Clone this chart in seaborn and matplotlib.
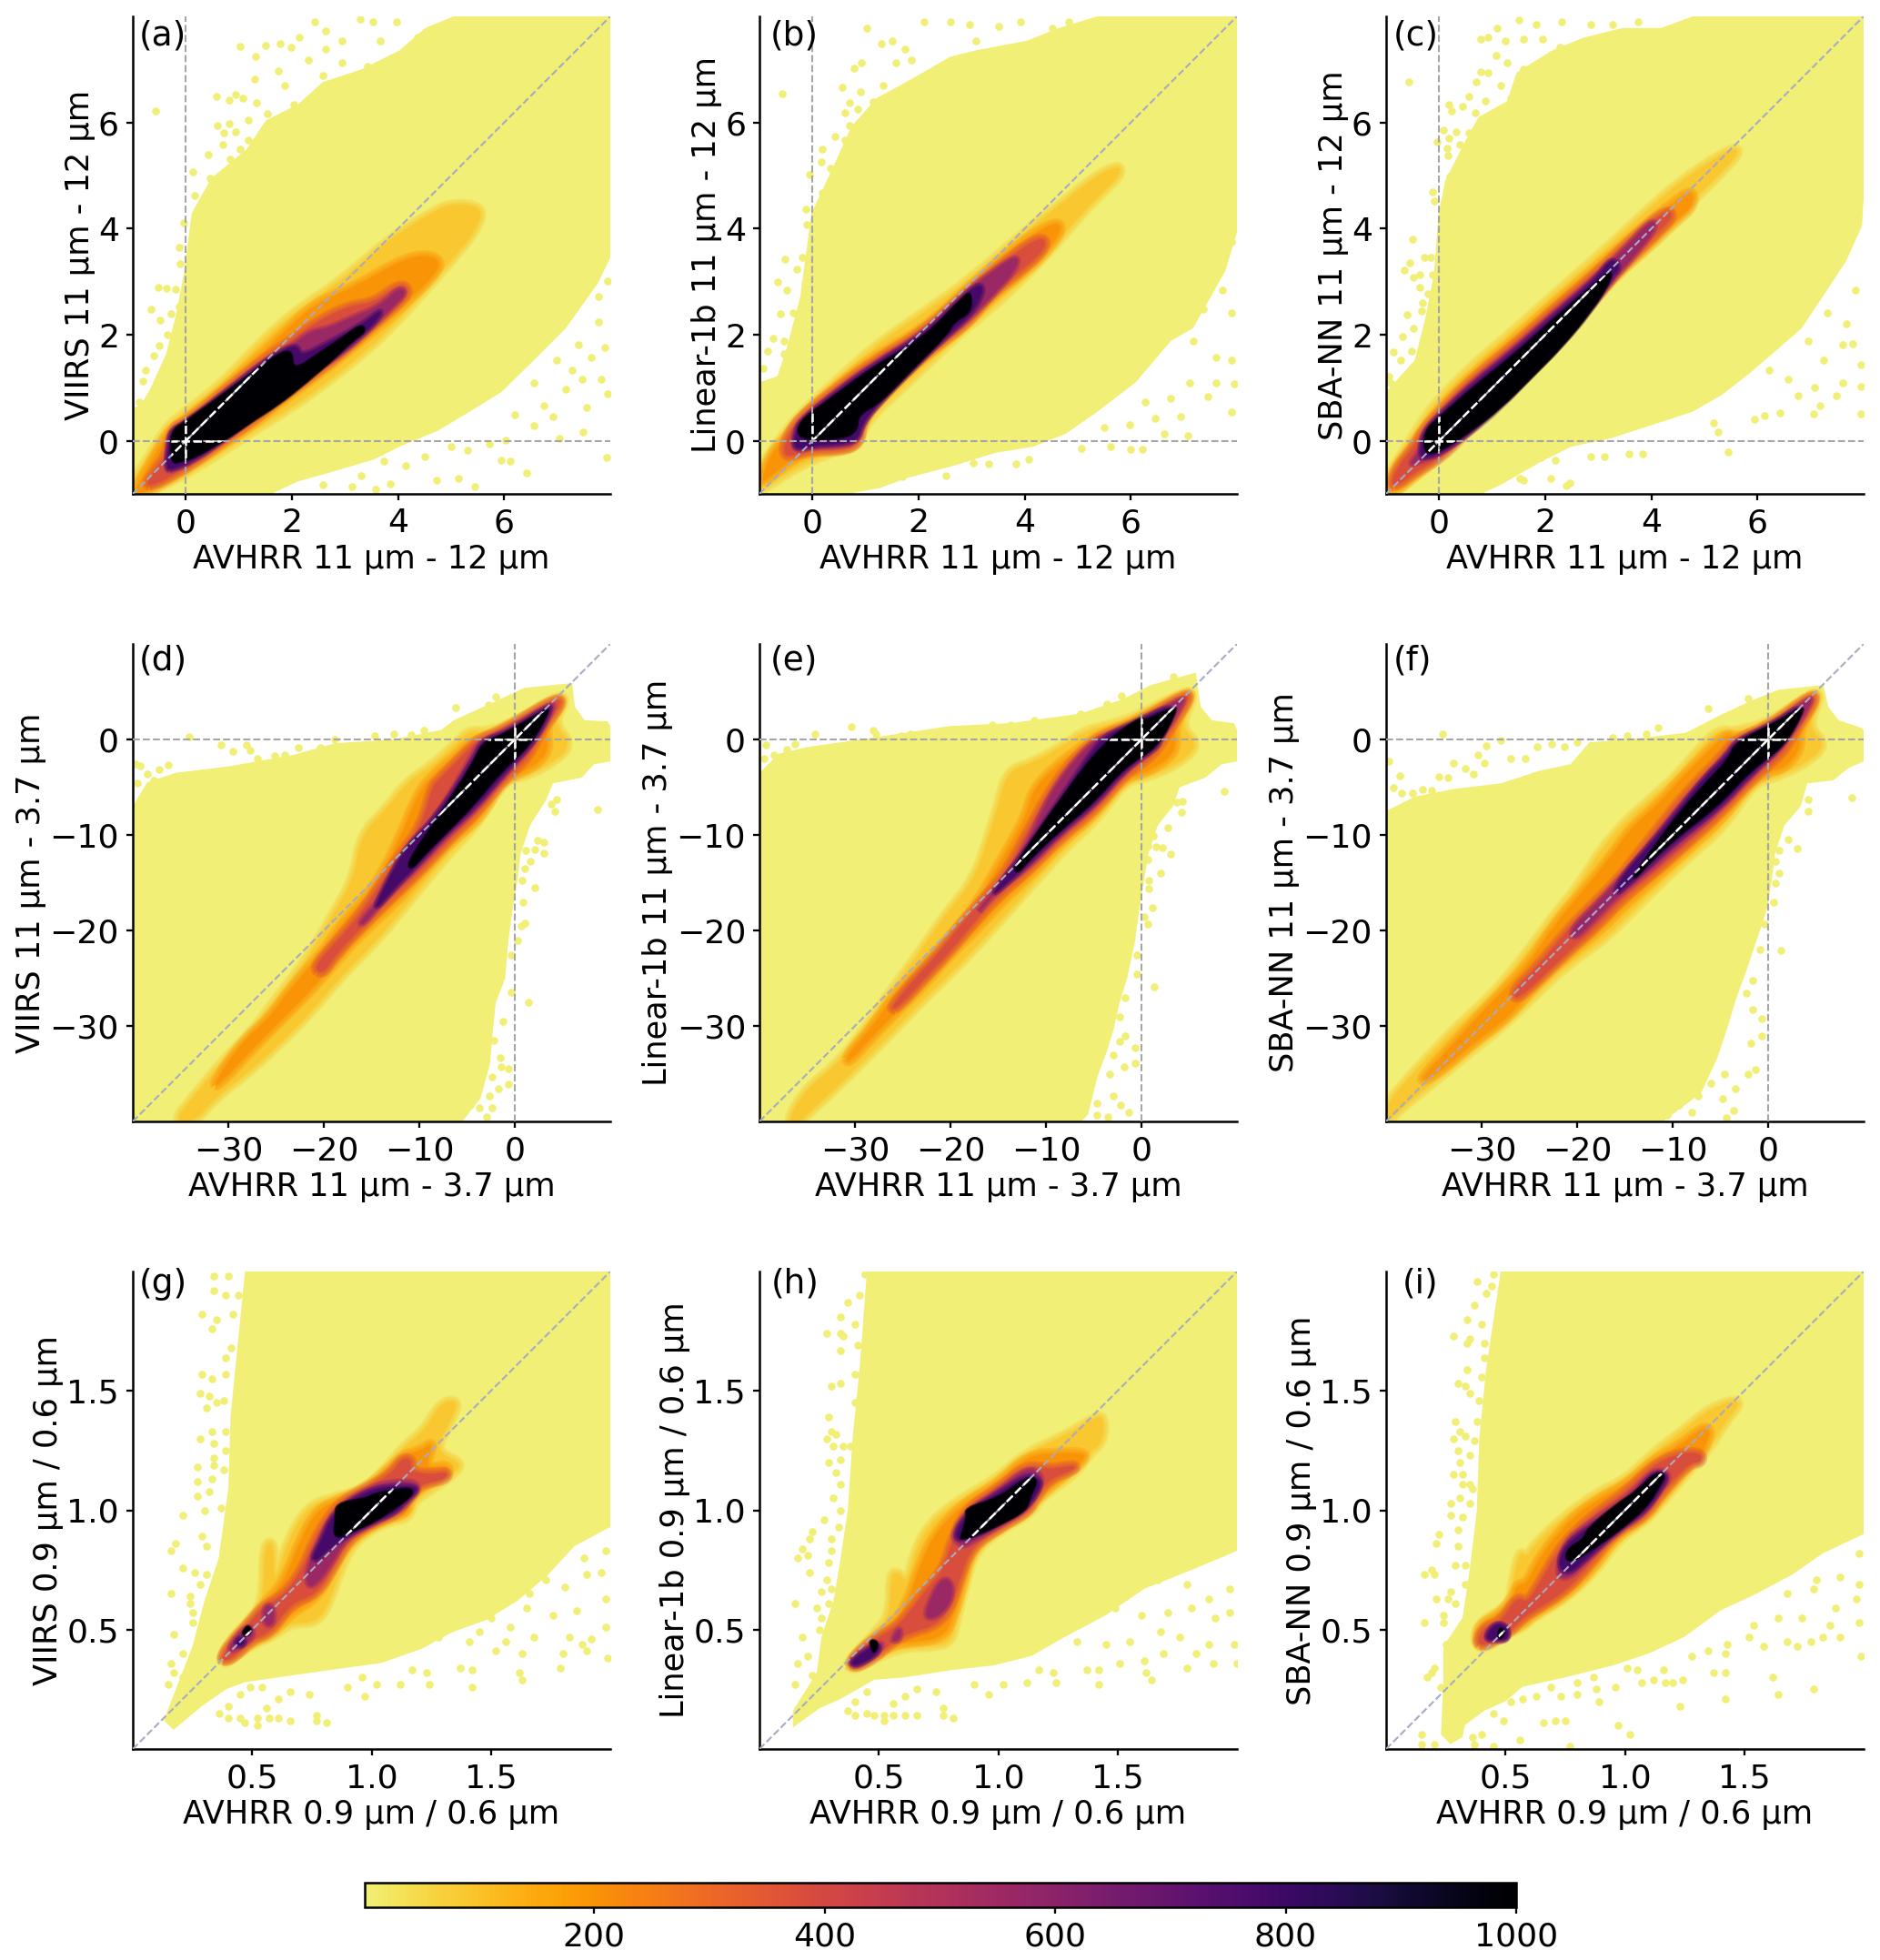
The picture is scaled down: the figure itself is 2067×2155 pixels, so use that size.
import numpy as np
import pandas as pd
import matplotlib
matplotlib.use('Agg')
import matplotlib.pyplot as plt
from matplotlib.cm import ScalarMappable
from matplotlib.colors import LinearSegmentedColormap, Normalize
from matplotlib.patches import PathPatch
from matplotlib.path import Path
import seaborn as sns

# ---- labels and axis setup ----
panel_tags = ['(a)', '(b)', '(c)', '(d)', '(e)', '(f)', '(g)', '(h)', '(i)']
tag_x = [.012, .022, .015, .012, .022, .015, .012, .024, .034]
tag_y = [.94, .94, .94, .945, .945, .945, .955, .955, .955]
y_names = ['VIIRS', 'Linear-1b', 'SBA-NN']
row_bands = ['11 µm - 12 µm', '11 µm - 3.7 µm', '0.9 µm / 0.6 µm']
row_limits = [(-1, 8), (-40, 10), (0, 2)]
row_ticks = [[0, 2, 4, 6], [-30, -20, -10, 0], [0.5, 1.0, 1.5]]
row_zero = [True, True, False]
cbar_ticks = [200, 400, 600, 800, 1000]
levels = [90, 200, 380, 560, 780, 1000]

# ---- panel a ----
a_hull = [(-1,-1),(-1,.62),(-.85,.67),(-.67,.98),(-.37,1.64),(-.19,2.36),(-.04,3.13),(.11,4.29),(.48,4.95),(1.14,5.49),(1.51,6.04),(2.11,6.34),(2.58,6.76),(3.31,7),(4.03,7.36),(4.51,7.78),(5.05,8),(8,8),(8,3.45),(7.76,2.96),(7.16,2.12),(6.56,1.52),(5.95,.92),(5.35,.55),(4.75,.19),(4.03,-.11),(3.55,-.35),(2.95,-.53),(2.1,-.77),(1.62,-1)]
a_l1 = [(-1,-.77),(-.67,-.29),(-.37,.25),(.02,.55),(.72,1.1),(1.32,1.76),(2.04,2.42),(2.95,3.02),(3.85,3.81),(4.63,4.29),(4.99,4.47),(5.6,4.41),(5.48,3.99),(4.99,3.39),(4.45,2.78),(3.85,2.12),(3.25,1.58),(2.64,1.1),(2.04,.67),(1.26,.19),(.54,-.29),(-.07,-.65),(-.67,-.95),(-.91,-1)]
a_l2 = [(-.97,-.95),(-.73,-.53),(-.49,-.11),(-.31,.19),(0,.4),(.72,.98),(1.38,1.58),(1.86,2.06),(2.46,2.6),(3.19,2.9),(4.03,3.39),(4.51,3.51),(4.81,3.39),(4.69,3.14),(4.27,2.72),(3.73,2.24),(3.07,1.7),(2.46,1.22),(1.86,.8),(1.26,.31),(.72,-.05),(.11,-.47),(-.49,-.83),(-.85,-1)]
a_l3 = [(-.76,-.83),(-.52,-.47),(-.37,-.29),(-.25,.25),(0,.34),(.78,.98),(1.44,1.52),(1.98,1.88),(2.46,2.24),(3.07,2.54),(3.55,2.6),(4.03,2.96),(4.21,2.84),(4.03,2.6),(3.67,2.3),(3.07,1.76),(2.46,1.28),(1.86,.86),(1.26,.37),(.72,.01),(.11,-.44),(-.37,-.71),(-.61,-.83)]
a_l4 = [(-.37,-.56),(-.34,-.17),(-.28,.19),(0,.34),(.78,.95),(1.5,1.52),(1.98,1.76),(2.34,2.06),(2.7,2.12),(3.07,2.3),(3.67,2.54),(4.03,2.9),(4.15,2.78),(3.91,2.54),(3.55,2.18),(2.95,1.64),(2.46,1.34),(1.86,.92),(1.26,.43),(.72,.01),(.11,-.41),(-.25,-.56)]
a_l5 = [(-.37,-.53),(-.32,-.05),(-.28,.19),(0,.34),(.84,.98),(1.68,1.64),(2.1,1.82),(2.16,1.58),(2.64,1.82),(3.31,2.18),(3.73,2.51),(3.55,2.2),(2.95,1.7),(2.46,1.34),(1.86,.92),(1.26,.43),(.78,.07),(.11,-.38),(-.25,-.53)]
a_l6 = [(-.28,-.44),(-.28,.19),(-.04,.34),(.9,1.02),(1.68,1.61),(2.01,1.73),(2.01,1.31),(2.58,1.7),(2.95,1.94),(3.31,2.21),(3.4,2.06),(3.13,1.88),(2.83,1.58),(2.28,1.1),(1.74,.67),(1.26,.37),(.78,.04),(.17,-.32),(-.07,-.38)]
a_cloud = [(-.57,6.22),(1.03,7.43),(.57,6.49),(.81,6.43),(.93,6.52),(1.08,6.46),(1.33,6.37),(1.53,6.16),(.6,5.95),(.81,5.98),(1.17,6.04),(.72,5.8),(.93,5.83),(1.17,5.67),(.69,5.58),(.42,5.4),(.14,5.07),(.45,4.95),(.6,4.92),(.84,5.31),(.17,4.62),(-.04,4.11),(-.13,3.64),(-.11,3.33),(-.52,2.89),(-.37,2.87),(-.2,2.86),(-.65,2.48),(-.49,2.27),(-.28,2.39),(-.13,2.54),(-.34,2),(-.51,1.79),(-.61,1.61),(-.76,1.34),(-.82,1.13),(-.88,.73),(1.5,7.45),(1.77,7.49),(2.13,7.61),(2.43,7.9),(2.64,7.73),(3.28,7.95),(3.52,7.89),(1.32,7.24),(1.29,6.82),(1.74,6.97),(1.98,7.42),(2.31,7.18),(2.64,7.39),(2.95,7.54),(3.67,7.54),(3.97,7.9),(4.36,7.6),(4.66,7.72),(5.05,7.84),(5.53,7.96),(1.86,6.7),(2.34,6.4),(2.04,6.34),(2.58,6.88),(2.95,7.12),(3.43,7.06),(3.85,7.12),(4.27,7.36),(4.75,7.42),(1.68,5.92),(1.92,6.04),(1.5,5.73),(1.02,5.49),
    (7.93,-.31),(6.43,-.61),(6.12,-.39),(5.94,-.36),(5.45,-.87),(5.13,-.71),(4.72,-.75),(3.85,-.81),(3.58,-.92),(3.13,-.86),(2.58,-.83),(7.04,.04),(7.49,.17),(6.56,.28),(6.92,.46),(7.55,.63),(7.95,.89),(7.83,1.16),(7.46,1.16),(7.16,.98),(6.74,.67),(6.2,.49),(6.02,.01),(5.72,-.05),(5.3,-.17),(5,-.11),(4.51,-.29),(4.15,-.47),(3.73,-.38),(3.31,-.65),(7.89,1.76),(7.64,1.58),(7.28,1.34),(7.77,2.24),(7.95,3.02),(7.77,2.72),(7.4,1.82),(6.98,1.52),(6.56,1.1)]

# ---- panel b ----
b_hull = [(-1,-1),(-1,1.1),(-.66,1.22),(-.48,1.77),(-.23,2.72),(-.02,4.29),(.43,5.25),(.73,5.92),(1.21,6.46),(1.87,6.82),(2.6,7.24),(3.08,7.36),(4.04,7.54),(4.64,7.78),(5.37,8),(8,8),(8,3.93),(7.78,3.2),(7.17,2.12),(6.75,1.88),(6.09,1.1),(5.37,.55),(4.77,.13),(4.16,-.11),(3.44,-.23),(2.66,-.47),(1.75,-.71),(1.27,-.89),(.67,-1)]
b_l1 = [(-.99,-.89),(-.99,-.53),(-.66,-.05),(-.3,.43),(.25,.94),(1.15,1.76),(2.11,2.42),(2.96,3.02),(3.86,3.81),(4.77,4.53),(5.37,5.01),(5.79,5.19),(5.79,5.01),(5.49,4.71),(5.07,4.29),(4.46,3.57),(3.86,2.96),(3.26,2.42),(2.66,1.94),(2.05,1.34),(1.45,.8),(.97,.31),(.85,-.11),(.25,-.23),(-.48,-.59),(-.9,-.89)]
b_l2 = [(-.97,-.77),(-.78,-.23),(-.48,.07),(-.23,.43),(.31,.92),(1.15,1.58),(2.11,2.12),(2.96,2.9),(3.86,3.69),(4.52,4.11),(4.71,4.05),(4.52,3.69),(4.04,3.2),(3.44,2.78),(2.96,2.24),(2.36,1.76),(1.87,1.4),(1.27,.8),(.91,.37),(.88,-.08),(.43,-.2),(-.05,-.2),(-.48,-.41),(-.84,-.71)]
b_l3 = [(-.54,-.29),(-.51,.01),(-.27,.41),(.31,.87),(1.15,1.5),(2.11,2.07),(2.9,2.8),(3.56,3.33),(4.16,3.78),(4.4,3.81),(4.34,3.57),(3.92,3.2),(3.32,2.72),(2.9,2.2),(2.36,1.82),(1.87,1.4),(1.27,.8),(.94,.37),(.88,-.05),(.55,-.17),(0,-.17),(-.3,-.26)]
b_l4 = [(-.36,-.2),(-.36,.13),(-.23,.37),(.31,.84),(1.15,1.46),(2.11,2.04),(2.84,2.76),(3.32,3.14),(3.86,3.51),(3.86,3.27),(3.44,2.78),(2.96,2.3),(2.36,1.82),(1.87,1.37),(1.27,.77),(.94,.34),(.85,-.02),(.49,-.11),(.04,-.11)]
b_l5 = [(-.36,-.17),(-.31,.16),(-.23,.37),(.31,.8),(1.15,1.43),(2.11,2),(2.84,2.72),(3.14,2.96),(3.23,2.84),(3.02,2.42),(2.54,2),(1.87,1.34),(1.27,.73),(.94,.34),(.85,.01),(.49,-.06),(.04,-.08)]
b_l6 = [(-.27,.01),(-.27,.36),(.31,.77),(1.15,1.4),(2.11,1.94),(2.9,2.78),(2.99,2.78),(2.99,2.42),(2.66,2.24),(2.54,2),(1.87,1.34),(1.27,.71),(.85,.49),(.85,.19),(.58,.04)]
b_cloud = [(-.57,6.55),(1.03,7.78),(.56,6.66),(.79,7.03),(.92,7.13),(1.3,7.48),(1.51,7.54),(1.75,7.39),(2.11,7.9),(2.6,7.9),(2.96,7.84),(3.5,7.81),(3.92,7.9),(4.83,7.9),(5.37,7.9),(1.57,7.12),(1.87,7.18),(2.3,7),(2.66,7.12),(3.08,7.54),(3.56,7.24),(4.04,7.36),(4.52,7.78),(1.33,6.7),(1.87,6.7),(.7,6.37),(.91,6.58),(1.15,6.39),(1.57,6.4),(2.11,6.46),(2.6,6.64),(.61,6.19),(.85,6.25),(1.15,6.04),(.7,5.95),(.97,5.86),(1.51,6.1),(.43,5.73),(.61,5.67),(.19,5.49),(.16,5.25),(.34,5.13),(-.05,5.01),(.55,5.31),(.19,4.68),(-.13,4.37),(-.11,4.08),(-.52,3.42),(-.19,3.45),(-.3,3.23),(-.66,2.99),(-.48,2.84),(-.14,2.96),(-.61,2.39),(-.36,2.42),(-.17,2.57),(-.75,1.94),(-.54,1.88),(-.84,1.7),(-.54,1.64),(-.93,1.37),
    (7.94,1.07),(7.89,.54),(7.07,.1),(6.63,.13),(6.21,-.16),(6,-.16),(5.07,-.14),(5.61,-.11),(4.07,-.35),(3.83,-.44),(3.32,-.44),(3.02,-.41),(2.51,-.65),(1.69,-.68),(5.97,.31),(6.45,.43),(6.93,.46),(7.45,.83),(7.6,1.1),(7.11,1.1),(6.75,.8),(6.27,.73),(5.49,.25),(7.9,1.52),(7.6,1.58),(7.17,1.88),(7.9,2.42),(7.72,2.84),(7.9,3.75),(7.36,2.48)]

# ---- panel c ----
c_hull = [(-1,-1),(-1,.92),(-.73,1.22),(-.46,1.52),(-.25,2.36),(-.1,3.14),(-.01,4.29),(.11,4.89),(.44,5.55),(.74,6.1),(1.28,6.4),(1.46,6.94),(2.13,7.36),(2.73,7.6),(3.45,7.78),(4.18,7.78),(4.78,8),(8,8),(8,4.59),(7.97,4.05),(7.67,3.39),(7.31,2.84),(6.83,2.12),(6.28,1.64),(5.86,1.28),(5.32,.86),(4.78,.55),(4.05,.31),(3.21,.04),(2.49,-.11),(1.89,-.41),(1.16,-.83),(.8,-1)]
c_l1 = [(-1,-.89),(-1,-.71),(-.64,-.17),(-.31,.37),(.02,.8),(.68,1.46),(1.4,2.06),(2.13,2.72),(2.97,3.45),(3.87,4.29),(4.48,4.83),(5.08,5.25),(5.56,5.52),(5.65,5.43),(5.32,5.07),(4.78,4.53),(4.17,3.93),(3.57,3.33),(2.97,2.72),(2.37,2.12),(1.77,1.52),(1.16,.86),(.56,.31),(-.04,-.29),(-.52,-.71),(-.89,-1)]
c_l2 = [(-.98,-.95),(-.85,-.53),(-.52,-.11),(-.28,.25),(.02,.61),(.68,1.28),(1.4,1.88),(2.13,2.54),(2.97,3.27),(3.87,4.05),(4.54,4.59),(4.78,4.71),(4.78,4.41),(4.42,4.11),(3.93,3.63),(3.33,3.14),(2.85,2.6),(2.31,2),(1.77,1.46),(1.16,.8),(.56,.25),(-.04,-.35),(-.52,-.71),(-.82,-.95)]
c_l3 = [(-.92,-.83),(-.77,-.47),(-.46,-.11),(-.31,.19),(.02,.55),(.68,1.22),(1.4,1.79),(2.13,2.45),(2.97,3.17),(3.82,3.99),(4.3,4.35),(4.42,4.23),(4.06,3.87),(3.57,3.39),(3.21,3.02),(2.85,2.54),(2.31,1.94),(1.77,1.4),(1.16,.76),(.56,.22),(.08,-.29),(-.46,-.59),(-.77,-.83)]
c_l4 = [(-.58,-.47),(-.34,-.17),(-.31,.16),(.02,.52),(.68,1.16),(1.4,1.73),(2.13,2.39),(2.97,3.11),(3.45,3.57),(3.99,4.17),(4.11,4.05),(3.75,3.57),(3.39,3.17),(2.85,2.51),(2.31,1.88),(1.77,1.34),(1.16,.7),(.56,.16),(.02,-.26),(-.34,-.38)]
c_l5 = [(-.36,-.29),(-.31,.13),(.02,.49),(.68,1.1),(1.4,1.67),(2.13,2.33),(2.97,3.05),(3.24,3.45),(3.42,3.27),(3.24,3.09),(2.85,2.45),(2.31,1.82),(1.77,1.28),(1.16,.64),(.56,.13),(.02,-.23),(-.25,-.32)]
c_l6 = [(-.28,-.26),(-.28,.19),(.02,.46),(.68,1.04),(1.4,1.61),(2.13,2.27),(2.97,2.99),(3.24,3.23),(3.24,3.02),(2.85,2.42),(2.31,1.76),(1.77,1.22),(1.16,.61),(.56,.16),(.02,-.2)]
c_cloud = [(-.57,6.77),(.78,7.57),(.92,7.61),(1.09,7.78),(1.51,7.93),(1.83,7.84),(2.31,7.9),(2.85,7.84),(3.27,7.84),(3.75,7.9),(1.25,7.54),(1.58,7.57),(1.95,7.58),(2.28,7.42),(2.67,7.36),(3.09,7.54),(3.51,7.36),(3.93,7.54),(1.28,7.12),(1.58,7),(1.89,7.12),(2.13,7.21),(2.37,6.94),(2.73,7),(.78,6.95),(1.07,7.27),(.69,6.77),(.92,6.94),(1.16,6.7),(1.58,6.64),(1.95,6.7),(.18,6.34),(.44,6.31),(.56,6.49),(.86,6.4),(.23,6.22),(.68,6.19),(1.34,6.46),(1.04,6.1),(.08,5.86),(.32,5.83),(.56,5.8),(.19,5.7),(-.04,5.64),(.38,5.58),(.15,5.51),(.17,5.37),(.33,5.19),(.2,4.98),(-.13,4.69),(-.1,4.52),(-.51,3.8),(-.28,3.45),(-.16,3.45),(-.55,3.36),(-.66,3.22),(-.37,3.14),(-.49,3.08),(-.13,3.14),(-.37,2.89),(-.22,2.78),(-.31,2.6),(-.6,2.37),(-.34,2.45),(-.49,2.12),(-.7,1.97),(-.86,1.67),(-.52,1.7),(-.73,1.52),(-.66,1.16),(-.92,1.1),(-.95,1.22),
    (7.94,.51),(7.95,1.02),(7.94,1.43),(7.79,1.83),(7.61,1.81),(7.05,.51),(7.17,.66),(6.77,.86),(6.43,.52),(6.13,.48),(5.95,.4),(5.44,-.21),(5.26,.16),(5.17,.34),(7.07,1.01),(7.49,.86),(7.25,1.52),(7.61,1.1),(6.58,1.16),(6.22,1.34),(6.95,1.88),(7.67,2.21),(7.85,2.84),(7.31,2.42),(3.84,-.25),(3.57,-.24),(3.12,-.29),(2.85,-.29),(2.46,-.8),(2.4,-.84),(2.1,-.7),(1.58,-.75),(1.52,-.71),(2.19,-.36),(1.92,-.32),(2.04,-.24)]

# ---- panel d ----
d_hull = [(-40,-40),(-40,-7),(-38.5,-4.5),(-35.5,-3.5),(-29.8,-2.8),(-23.1,-1.6),(-18.8,-.4),(-12.7,0),(-7.7,1),(-6.4,2),(-2,4),(1,5.4),(6,5.9),(6.3,3.4),(7.3,2),(9.7,1.9),(10,1.4),(10,-2.3),(8.3,-2.6),(7,-4),(4,-4.6),(3.3,-6.3),(1.6,-9),(.6,-12),(.3,-14.6),(-.2,-17.6),(-.7,-21.3),(-1,-25),(-2,-27.6),(-2.3,-30.6),(-2.6,-34),(-3.6,-37.6),(-5.5,-40)]
d_l1 = [(-35.7,-40),(-33.5,-37.3),(-30.5,-33.6),(-27.8,-31),(-24.8,-27),(-21.4,-22.6),(-19.4,-19),(-16.8,-14.6),(-16.1,-10),(-13.4,-7.3),(-11.4,-4.6),(-8.4,-2.6),(-6,-.3),(-4.7,.9),(-3,.7),(0,1.7),(4.7,4.7),(5.3,4),(4,1.7),(6,-.6),(3.6,-2.6),(.6,-4),(-1.4,-4),(-3.7,-8.6),(-6.4,-11.3),(-8.7,-14),(-11.4,-17.3),(-14.7,-21.3),(-18.1,-24.6),(-21.4,-28.6),(-24.8,-32),(-28.1,-35),(-31.5,-37.6),(-33.5,-40)]
d_l2 = [(-31.5,-36),(-28.5,-31.6),(-25.8,-29.3),(-23.1,-25.6),(-20.1,-22.3),(-18.1,-19.3),(-14.7,-15.6),(-12.1,-10.6),(-10.1,-5.6),(-8.4,-3.6),(-6,-1.6),(-5.1,-.6),(-3.7,0),(-1.4,1),(4.7,4.5),(5,3.7),(3.1,1.4),(3.6,-1),(2.3,-2.6),(.3,-3.6),(-1.4,-4.6),(-3.7,-8.3),(-6.7,-10.6),(-9.4,-13.6),(-12.7,-17.3),(-16.1,-20.3),(-18.8,-23.3),(-21.4,-26.3),(-24.1,-29),(-27.4,-32.3),(-31.1,-36.3)]
d_l3 = [(-21.1,-23.9),(-18.8,-21.3),(-16.1,-18.3),(-12.4,-12.6),(-9.7,-9),(-8.7,-5),(-7.7,-4),(-4.4,-.6),(-3.7,0),(-1,1),(4.4,4.4),(4.9,3.7),(2.6,.7),(1.3,-2),(-1,-4),(-3.7,-7.3),(-7,-10.6),(-10.1,-14),(-13.4,-17),(-16.4,-20),(-18.8,-22.6),(-20.1,-24.6)]
d_l4 = [(-16.4,-19.3),(-13.7,-16.3),(-12.1,-12.3),(-8.1,-8),(-4.4,-1.6),(-3.7,-.3),(-1,.9),(3.7,3.7),(4.2,3.5),(2.3,0),(-1,-3.6),(-4,-7.3),(-7.4,-10.3),(-10.1,-13.3),(-13.4,-16.3),(-15.7,-19.3)]
d_l5 = [(-14.7,-17.6),(-12.7,-13.6),(-11.1,-11),(-8.1,-8),(-4.2,-2),(-3.4,-.1),(-.7,.7),(3.5,3.5),(3.8,3.2),(2,-.3),(-1,-3.3),(-4,-6.9),(-7.4,-10),(-9.7,-12.6),(-12.4,-15.3),(-14.1,-17.3)]
d_l6 = [(-11.2,-13.3),(-10.7,-12),(-8.1,-8.3),(-4.4,-2.6),(-3.4,-.3),(-1.4,.4),(3.3,3.2),(3.6,2.9),(1.6,-.6),(-1.4,-3.3),(-4.4,-7),(-7.4,-10),(-9.7,-12.3),(-10.7,-13.5)]
d_cloud = [(-34.1,.3),(-30.8,-.6),(-29.5,-1.2),(-28.1,-.6),(-27.7,-1.1),(-27,-2),(-25.1,-1.7),(-24.1,-1.6),(-22.7,-.9),(-20.4,-.9),(-18.9,0),(-14.7,.4),(-12.7,.6),(-10.9,.5),(-9.5,1),(-6.2,3.3),(-2.8,3.6),(-2,4.5),(-39.7,-2.6),(-39.2,-2.8),(-37.2,-3.1),(-36.3,-2.7),(-38.5,-3.6),(-39.5,-4.6),(-37.8,-4.3),(-35.8,-4),(-38.8,-5.9),(-39.7,-7.5),(8.7,-7.3),(4.4,-6.3),(3.8,-6.8),(4.2,-7.5),(2.4,-10.6),(3,-10.8),(2.1,-11.5),(3,-11.9),(1.1,-11.6),(1.6,-12.8),(1,-13.5),(.8,-14.8),(2.1,-15.5),(.9,-17),(1,-19.2),(.7,-19.5),(.3,-21),(-.4,-22.6),(1.4,-27.5),(-.4,-26.5),(-1.2,-29.5),(-2.2,-31.5),(-1.5,-33.3),(-.7,-34.5),(-1.4,-34.3),(-2.4,-35.3),(-1.7,-36.6),(-.7,-36.1),(-2.7,-37.3),(-2.4,-38.6),(-3.7,-38.6),(-5.4,-39.1),(-3,-39.5),(-4.7,-38.3)]

# ---- panel e ----
e_hull = [(-40,-40),(-40,-3.5),(-38,-1.5),(-35,-.8),(-30.1,-.1),(-24.7,.7),(-20.1,1.4),(-13.7,1.7),(-6.4,2.7),(-2,4.2),(1,5.7),(5.7,7),(6.2,3.4),(7.4,2),(9.7,1.7),(10,1),(10,-2.3),(8.4,-2.6),(6.7,-4),(4,-5),(3.3,-7),(1.7,-9),(.7,-12),(.3,-14.6),(-.2,-17.6),(-.7,-21.3),(-1.5,-25),(-2.3,-27.6),(-2.9,-30.3),(-3.6,-32.6),(-4.6,-35.3),(-5.6,-39.3),(-6.3,-40)]
e_l1 = [(-37.1,-40),(-35.1,-36.6),(-32.1,-34.3),(-29.1,-30.6),(-26.4,-26.6),(-23.4,-22.6),(-20.7,-18.6),(-17.4,-14.6),(-15.7,-9.3),(-15,-7),(-14,-3.3),(-11.4,-2.5),(-8,-.6),(-5.7,1),(-1.3,1.9),(4.8,5.2),(5.4,4.4),(4,1.4),(6,-.6),(3.7,-2.6),(.3,-4),(-1.7,-4.3),(-4.7,-8.3),(-8,-11.3),(-10.7,-14.3),(-14,-18),(-16.7,-21),(-20.1,-24.6),(-22.7,-27),(-25.8,-30.3),(-28.8,-33.3),(-31.8,-36.3),(-35.1,-39.3),(-35.8,-40)]
e_l2 = [(-30.8,-33),(-28.1,-30),(-25.8,-26.6),(-22.7,-23.6),(-19.7,-20.3),(-17.1,-17),(-15,-13.3),(-12,-8),(-11.4,-5.3),(-8.7,-2.6),(-6,-.6),(-4,.7),(-1,1.7),(4.8,5),(5.2,4.4),(3.3,1.4),(3.7,-1),(2,-2.6),(0,-3.6),(-1.8,-4),(-5,-8),(-8.4,-10.6),(-11.4,-14),(-14.7,-17),(-17.4,-20),(-20.1,-22.6),(-22.7,-25.6),(-25.4,-28.3),(-28.1,-31),(-30.8,-34)]
e_l3 = [(-26.4,-28.3),(-23.7,-25),(-21.4,-22.6),(-19.4,-20),(-17.1,-17.3),(-14.4,-14.3),(-12.4,-10.6),(-9.4,-5),(-6.4,-1.3),(-4,.5),(-.8,1.5),(4.7,4.8),(5,4.2),(2.7,.7),(1.3,-1.6),(-1.7,-3.6),(-5,-7.5),(-8.5,-10.3),(-11.7,-13.6),(-15,-16.3),(-17.7,-19.3),(-20.1,-22.3),(-22.7,-25),(-25.4,-28)]
e_l4 = [(-17.1,-18),(-14.7,-15),(-12.4,-12),(-9.4,-5.3),(-6,-1),(-4,.4),(-.7,1.4),(4.2,4.4),(4.5,4),(2.3,.4),(-1.7,-3.3),(-5,-7.1),(-8.5,-9.9),(-11.7,-13.3),(-15,-15.6),(-17,-18)]
e_l5 = [(-15.7,-16.3),(-13.4,-13.3),(-11.7,-11),(-7.4,-4.6),(-5,-1),(-3.7,.4),(-.5,1.9),(3.8,3.9),(2,0),(1.5,-1),(-1.7,-3),(-5,-6.8),(-8.5,-9.6),(-11.7,-12.8),(-14.7,-15.6)]
e_l6 = [(-13.4,-13.6),(-12,-11.3),(-8,-5.6),(-4.2,-.6),(-.5,2.1),(.2,2.2),(.5,2),(3.5,3.5),(3.7,3),(1.7,-.8),(-1.7,-2.8),(-5,-6.6),(-8.5,-9.5),(-11.7,-12.5),(-12.9,-14)]
e_cloud = [(-34.2,.6),(-30.4,1.3),(-28.1,1),(-27.8,.6),(-25.1,.4),(-24.2,.6),(-15.6,1.5),(-13.7,1.5),(-11.2,2),(-6.4,2.7),(-3.6,3.7),(-2.1,4.6),(3.3,6.6),(-39.3,-.6),(-37.1,-1),(-36.3,-.5),(-38.5,-1.6),(-39.5,-2),(8.7,-5.4),(4.3,-6.5),(3.7,-6.6),(4.2,-7.6),(2.8,-9.2),(1.2,-10.1),(.7,-11.1),(1.5,-11.2),(2.2,-11.3),(3,-12),(.7,-12.6),(2,-14),(.8,-14.8),(.8,-15.6),(1.1,-17.6),(.3,-18.6),(.7,-19.3),(-.5,-22.6),(1.3,-25.9),(-.5,-24.6),(-1.7,-27),(-2.3,-29),(-1.7,-31),(-.7,-32.3),(-2.3,-31.6),(-.7,-33.9),(-3,-33),(-1.8,-34.3),(-3.3,-35),(-2.2,-38.3),(-1.3,-39),(-3.5,-39.5),(-4.7,-39.3),(-4.7,-38.1),(-3,-37.3),(-5.9,-36.6),(-6.5,-38.3)]

# ---- panel f ----
f_hull = [(-40,-40),(-40,-7.5),(-37,-6),(-33,-5.2),(-28,-4.6),(-24,-3.3),(-20.7,-2.6),(-18.7,-.3),(-14.6,0),(-8.6,.7),(-5.3,2.4),(-1.9,4),(1.1,5.2),(5.8,5.7),(6.3,3.4),(7.4,2),(9.8,1.2),(10,1),(10,-2.3),(8.4,-3),(6.8,-4.3),(4.1,-4.6),(3.4,-7),(1.7,-9),(.7,-12),(.4,-14.6),(-.1,-17.6),(-.6,-19.3),(-1.4,-21.6),(-2.3,-24.3),(-3.4,-27.3),(-4.2,-30),(-5.3,-33.3),(-7,-37),(-11,-40)]
f_l1 = [(-40,-39.6),(-40,-38.3),(-38.1,-36),(-34.7,-32.3),(-31.7,-29.3),(-28.7,-26.6),(-25.4,-22.6),(-22.3,-18.3),(-20,-15.6),(-17.3,-11.3),(-14.6,-8.3),(-12.3,-6.3),(-9.3,-3.6),(-6.6,-.3),(-4.9,1),(-3.6,.7),(.1,1.7),(4.9,5),(5.4,4.4),(4.1,1.4),(6.1,-.6),(3.7,-2.6),(.4,-4),(-1.6,-4.6),(-4.6,-9),(-8,-12),(-11.3,-15),(-14.6,-18.3),(-17.3,-21),(-20.7,-23.3),(-24,-26.3),(-27.4,-29.7),(-30.7,-32.3),(-34.7,-35.6),(-38.1,-38.3),(-39.4,-39.6)]
f_l2 = [(-36.4,-35.6),(-34,-33),(-31,-29.7),(-28,-26.6),(-24.9,-23.3),(-22.3,-19.3),(-19.7,-16.3),(-16.7,-12.6),(-14.4,-9.3),(-11.7,-7),(-9,-4),(-6.3,-1.3),(-4.3,.7),(-3.3,0),(.1,1.5),(4.7,4.9),(5.1,4.2),(3.2,1),(3.4,-1),(1.7,-3),(.1,-3.3),(-1.9,-4.6),(-4.9,-8.3),(-8.3,-11.3),(-11.6,-14.3),(-15,-17.3),(-18,-20.3),(-21,-22.6),(-24,-25.3),(-27.4,-29.3),(-30.7,-31.6),(-33.7,-34.3),(-35.7,-35.6)]
f_l3 = [(-26.7,-26.3),(-24.3,-24),(-21.3,-20.3),(-18.7,-17.6),(-16,-15),(-13.6,-12),(-11.3,-9),(-8.6,-5.6),(-4.6,-1.6),(-3.6,-.1),(.4,1.5),(4.6,4.7),(4.9,4),(2.7,.7),(1.4,-1.6),(-1.6,-4),(-5.3,-8),(-8.6,-11),(-12,-14),(-15.3,-16.6),(-18,-19.6),(-20.7,-22),(-24,-25.2),(-26.4,-27.3)]
f_l4 = [(-20.7,-19.9),(-18,-17.3),(-15.3,-14.3),(-12.6,-11.3),(-9.6,-7.6),(-6.6,-4),(-4.1,-1.3),(-3.4,-.2),(.6,1.5),(4.3,4.4),(4.6,4),(2.4,.4),(-1.6,-3.6),(-5.3,-7.6),(-9,-10.6),(-12.3,-13.6),(-15.7,-16.3),(-18.3,-19),(-20.3,-21)]
f_l5 = [(-16.1,-16),(-15,-14),(-12.3,-11),(-9.3,-7.3),(-6.3,-3.6),(-4.3,-1.8),(-3.3,-.1),(.7,1.7),(3.9,3.9),(1.7,-.6),(-1.6,-3.3),(-5.3,-7.3),(-9.3,-10.3),(-12.6,-13.3),(-15.6,-16)]
f_l6 = [(-14.3,-14.6),(-12,-11.3),(-9,-7.3),(-6,-4),(-4.1,-2),(-3.4,-.3),(.9,1.8),(3.6,3.5),(3.7,2.9),(1.6,-.8),(-1.6,-3),(-5.3,-7),(-9.3,-10),(-12.6,-13),(-13.6,-14.3)]
f_cloud = [(-34.1,.6),(-39.7,-2.3),(-38.6,-3.8),(-33,-2.5),(-31.7,-3),(-30.9,-3.6),(-29.5,-.7),(-28,-.1),(-30.4,-1.6),(-34.5,-3.9),(-33.5,-4),(-39.2,-5),(-37.2,-5.6),(-36.2,-5.2),(-35.2,-5.3),(-38.4,-5.6),(-29.7,-2.5),(-27,-2),(-25.4,-2),(-24.2,-.8),(-22.7,-.5),(-21.3,-.8),(-20,-.3),(-16.3,.2),(-14.8,.4),(-12.8,.6),(-11.5,1.2),(-6.3,3.2),(-2.1,4.3),(8.8,-6.1),(4.2,-6.3),(4.2,-7.5),(2.1,-10.5),(3,-11.4),(1.1,-11.6),(.8,-12.8),(1.1,-14),(.8,-15),(.6,-17),(1.3,-22.1),(-.4,-19.3),(-.9,-22),(-1.6,-25.2),(-2.3,-26.6),(-1.6,-28.3),(-.7,-29.2),(-.7,-31),(-1.8,-31.8),(-1.3,-34.6),(-2.1,-35),(-3.4,-36.6),(-4.6,-35),(-4.8,-37.6),(-3.6,-38.9),(-4.4,-39.6),(-6,-36),(-7.3,-37.3),(-8,-39),(-9.3,-38.3),(-10.6,-39.3)]

# ---- panel g ----
g_hull = [(.47,2),(2,2),(2,.93),(1.85,.85),(1.74,.73),(1.61,.62),(1.48,.54),(1.34,.49),(1.21,.42),(1.04,.36),(.82,.33),(.61,.3),(.47,.28),(.39,.25),(.29,.18),(.17,.08),(.13,.12),(.25,.43),(.3,.62),(.36,.8),(.4,1.09),(.41,1.4),(.44,1.7)]
g_l1 = [(.37,.37),(.4,.44),(.47,.52),(.55,.61),(.55,.85),(.59,.87),(.59,.67),(.65,.87),(.73,1.01),(.83,1.05),(.96,1.08),(1.05,1.16),(1.14,1.27),(1.22,1.33),(1.29,1.45),(1.36,1.46),(1.34,1.39),(1.26,1.25),(1.37,1.2),(1.36,1.17),(1.3,1.12),(1.17,1.04),(1.16,.97),(1.05,.95),(.94,.88),(.88,.79),(.82,.61),(.77,.53),(.66,.53),(.58,.47),(.5,.44),(.43,.39),(.39,.36)]
g_l2 = [(.37,.38),(.41,.45),(.49,.53),(.55,.61),(.63,.69),(.7,.87),(.77,1),(.88,1.05),(.97,1.09),(1.06,1.16),(1.13,1.23),(1.21,1.25),(1.26,1.29),(1.22,1.17),(1.32,1.19),(1.32,1.15),(1.22,1.11),(1.16,1.05),(1.15,.99),(1.05,.96),(.93,.89),(.85,.79),(.78,.64),(.66,.57),(.58,.48),(.5,.45),(.43,.39),(.39,.37)]
g_l3 = [(.37,.38),(.41,.44),(.49,.53),(.55,.6),(.63,.64),(.71,.75),(.75,.85),(.81,.96),(.88,1.04),(.98,1.09),(1.08,1.15),(1.13,1.22),(1.17,1.21),(1.16,1.16),(1.26,1.15),(1.32,1.16),(1.31,1.13),(1.21,1.11),(1.16,1.07),(1.12,.99),(1.01,.95),(.9,.88),(.84,.76),(.77,.65),(.66,.61),(.58,.49),(.5,.46),(.43,.39),(.39,.37)]
g_l4 = [(.73,.75),(.77,.85),(.84,1),(.98,1.09),(1.08,1.12),(1.18,1.12),(1.2,1.09),(1.17,1.05),(1.12,1),(1,.94),(.89,.88),(.84,.79),(.77,.69),(.73,.68)]
g_l4b = [(.4,.42),(.44,.48),(.49,.52),(.51,.48),(.47,.44),(.42,.41)]
g_l4c = [(.55,.6),(.59,.6),(.59,.52),(.55,.52)]
g_l5 = [(.75,.8),(.79,.87),(.84,.99),(.98,1.08),(1.08,1.1),(1.18,1.1),(1.19,1.08),(1.14,1.04),(1.1,.99),(1,.95),(.89,.89),(.82,.84),(.77,.79)]
g_l5b = [(.43,.45),(.46,.47),(.47,.44),(.44,.43)]
g_l6 = [(.84,.89),(.85,.97),(.85,1.03),(.98,1.05),(1.01,1.07),(1.12,1.09),(1.17,1.09),(1.17,1.06),(1.1,1.01),(1.01,.95),(.94,.92),(.88,.89)]
g_l6b = [(.46,.49),(.48,.52),(.5,.5),(.48,.47),(.46,.48)]
g_cloud = [(.34,1.98),(.4,1.98),(.34,1.92),(.39,1.9),(.29,1.82),(.35,1.8),(.33,1.76),(.42,1.82),(.44,1.9),(.41,1.68),(.39,1.64),(.29,1.57),(.33,1.55),(.39,1.57),(.28,1.49),(.32,1.48),(.35,1.45),(.38,1.46),(.31,1.43),(.33,1.33),(.28,1.3),(.39,1.33),(.34,1.28),(.39,1.25),(.34,1.22),(.27,1.18),(.34,1.19),(.38,1.17),(.27,1.12),(.33,1.13),(.32,1.08),(.27,1.06),(.21,.98),(.3,1),(.37,1.01),(.29,.89),(.31,.85),(.18,.86),(.16,.83),(.21,.76),(.26,.74),(.31,.73),(.28,.69),(.16,.65),(.24,.64),(.24,.61),(.25,.57),(.25,.53),(.17,.48),(.21,.4),(.16,.36),(.17,.32),(.21,.3),(.15,.27),
    (.4,.18),(.36,.15),(.4,.13),(.45,.13),(.47,.11),(.52,.13),(.52,.1),(.57,.13),(.56,.17),(.61,.13),(.66,.12),(.77,.14),(.77,.12),(.81,.11),(.61,.21),(.74,.23),(.97,.22),(.9,.26),(.66,.24),(.49,.26),(.45,.23),(.54,.26),(1.02,.27),(.96,.3),(1.12,.27),(1.24,.27),(1.42,.26),(1.63,.29),(1.62,.32),(1.79,.34),(1.99,.38),(1.37,.34),(1.42,.33),(1.23,.32),(1.17,.33),(1.52,.41),(1.63,.4),(1.8,.4),(1.9,.41),(1.88,.44),(1.83,.47),(1.92,.46),(1.98,.51),(1.68,.47),(1.56,.45),(1.41,.45),(1.28,.47),(1.45,.49),(1.58,.51),(1.76,.56),(1.86,.58),(1.98,.63),(1.65,.59),(1.5,.55),(1.96,.74),(1.9,.73),(1.81,.68),(1.73,.71),(1.66,.65),(1.98,.83),(1.89,.8)]

# ---- panel h ----
h_hull = [(.45,2),(2,2),(2,.83),(1.81,.75),(1.61,.67),(1.45,.56),(1.28,.47),(1.14,.39),(.98,.35),(.8,.33),(.61,.3),(.48,.29),(.34,.21),(.25,.17),(.14,.09),(.14,.16),(.24,.32),(.26,.47),(.31,.62),(.34,.8),(.37,1),(.39,1.3),(.42,1.6)]
h_l1 = [(.37,.36),(.48,.48),(.55,.56),(.55,.73),(.58,.74),(.62,.69),(.66,.85),(.73,.96),(.85,1.05),(.98,1.12),(1.12,1.24),(1.28,1.31),(1.41,1.39),(1.44,1.39),(1.44,1.29),(1.37,1.23),(1.33,1.16),(1.17,1.05),(1.14,.99),(1.01,.92),(.9,.83),(.86,.69),(.82,.53),(.8,.45),(.73,.43),(.61,.43),(.5,.39),(.41,.34),(.38,.34)]
h_l2 = [(.37,.36),(.48,.47),(.56,.52),(.62,.61),(.68,.79),(.74,.91),(.86,1.03),(1,1.11),(1.12,1.23),(1.27,1.24),(1.36,1.24),(1.36,1.21),(1.28,1.15),(1.16,1.05),(1.13,1),(1.01,.93),(.89,.84),(.85,.69),(.81,.55),(.77,.47),(.66,.45),(.56,.44),(.48,.39),(.4,.34)]
h_l3 = [(.38,.37),(.48,.46),(.56,.5),(.62,.56),(.7,.67),(.77,.75),(.8,.85),(.86,1),(1,1.09),(1.12,1.19),(1.21,1.17),(1.32,1.19),(1.32,1.17),(1.21,1.13),(1.15,1.04),(1.12,.99),(1.01,.93),(.89,.85),(.84,.72),(.8,.59),(.74,.52),(.64,.49),(.57,.46),(.48,.38),(.4,.34)]
h_l4 = [(.8,.89),(.87,1),(1,1.08),(1.12,1.18),(1.18,1.15),(1.18,1.11),(1.12,1),(1.01,.94),(.88,.86),(.85,.85)]
h_l4b = [(.72,.64),(.77,.72),(.81,.69),(.8,.61),(.74,.55),(.69,.55)]
h_l4c = [(.37,.36),(.44,.42),(.52,.45),(.5,.41),(.41,.34)]
h_l4d = [(.56,.47),(.59,.51),(.59,.46),(.56,.45)]
h_l5 = [(.81,.88),(.87,.99),(1,1.07),(1.12,1.15),(1.17,1.13),(1.18,1.1),(1.12,1.01),(1.01,.95),(.88,.88)]
h_l5b = [(.38,.36),(.44,.41),(.5,.44),(.5,.4),(.41,.35)]
h_l6 = [(.84,.88),(.87,.97),(.86,1.01),(1,1.05),(1.12,1.14),(1.17,1.13),(1.13,1.05),(1.12,1),(1.01,.94),(.9,.89),(.85,.88)]
h_l6b = [(.46,.45),(.48,.46),(.5,.44),(.48,.4),(.47,.42)]
h_cloud = [(.28,1.74),(.34,1.74),(.35,1.73),(.34,1.67),(.37,1.87),(.34,1.81),(.4,1.78),(.42,1.9),(.44,1.99),(.41,1.69),(.4,1.57),(.3,1.52),(.34,1.53),(.4,1.45),(.29,1.39),(.3,1.33),(.28,1.3),(.32,1.32),(.31,1.27),(.35,1.27),(.38,1.27),(.29,1.2),(.34,1.21),(.32,1.16),(.34,1.11),(.31,1.05),(.34,1),(.27,.96),(.33,.93),(.22,.91),(.21,.88),(.3,.88),(.18,.84),(.16,.8),(.2,.81),(.3,.83),(.29,.78),(.21,.74),(.28,.71),(.26,.66),(.3,.67),(.15,.61),(.24,.59),(.29,.61),(.26,.55),(.25,.5),(.18,.47),(.2,.39),(.16,.36),(.22,.31),(.15,.27),
    (.4,.2),(.37,.16),(.4,.14),(.45,.15),(.48,.14),(.52,.14),(.52,.12),(.56,.14),(.56,.19),(.61,.14),(.66,.14),(.77,.17),(.77,.14),(.81,.13),(.61,.22),(.74,.24),(.96,.23),(.9,.27),(.66,.25),(.45,.24),(1.02,.27),(1.12,.28),(1.24,.28),(1.42,.27),(1.64,.29),(1.62,.32),(1.79,.34),(2,.36),(1.9,.36),(1.83,.4),(1.69,.4),(1.61,.37),(1.51,.36),(1.37,.33),(1.42,.33),(1.23,.32),(1.17,.33),(1.99,.44),(1.88,.44),(1.76,.47),(1.68,.49),(1.55,.45),(1.45,.44),(1.33,.45),(1.24,.49),(1.97,.57),(1.91,.55),(1.81,.59),(1.71,.57),(1.6,.56),(1.49,.59),(1.97,.67),(1.88,.63),(1.79,.69),(1.67,.71),(1.57,.69),(1.91,.81),(1.84,.79),(1.97,.88)]

# ---- panel i ----
i_hull = [(.48,2),(2,2),(2,.9),(1.83,.82),(1.7,.73),(1.55,.65),(1.4,.58),(1.25,.47),(1.1,.4),(.95,.35),(.75,.3),(.57,.26),(.5,.2),(.41,.16),(.33,.1),(.32,.05),(.27,.02),(.23,.06),(.24,.29),(.24,.43),(.32,.55),(.35,.75),(.38,1),(.39,1.3),(.42,1.6)]
i_l1 = [(.37,.45),(.39,.53),(.52,.6),(.53,.69),(.56,.83),(.59,.8),(.61,.84),(.73,.96),(.88,1.07),(1.01,1.13),(1.12,1.24),(1.23,1.32),(1.36,1.43),(1.5,1.47),(1.41,1.36),(1.36,1.27),(1.27,1.17),(1.15,1.03),(1.09,.96),(.97,.88),(.88,.75),(.75,.63),(.61,.55),(.57,.51),(.48,.47),(.41,.42)]
i_l2 = [(.38,.44),(.39,.52),(.47,.56),(.53,.63),(.55,.69),(.59,.69),(.64,.8),(.77,.96),(.88,1.04),(1.01,1.11),(1.12,1.21),(1.23,1.27),(1.33,1.35),(1.36,1.33),(1.32,1.23),(1.27,1.19),(1.15,1.05),(1.09,.97),(.96,.89),(.87,.76),(.75,.64),(.61,.56),(.57,.52),(.48,.48),(.41,.43)]
i_l3 = [(.38,.45),(.41,.51),(.48,.53),(.55,.64),(.59,.61),(.64,.69),(.72,.83),(.8,.92),(.91,1.01),(1.01,1.08),(1.12,1.19),(1.23,1.24),(1.32,1.24),(1.32,1.2),(1.27,1.2),(1.15,1.07),(1.08,.97),(.96,.91),(.85,.77),(.76,.67),(.64,.59),(.57,.55),(.52,.49),(.41,.43)]
i_l4 = [(.71,.73),(.75,.87),(.83,.93),(.93,1),(1.03,1.07),(1.12,1.17),(1.18,1.16),(1.18,1.12),(1.15,1.09),(1.09,.99),(.97,.91),(.84,.79),(.76,.71)]
i_l4b = [(.41,.46),(.45,.53),(.51,.51),(.51,.46),(.47,.45)]
i_l5 = [(.72,.77),(.75,.85),(.84,.92),(.95,.99),(1.03,1.05),(1.12,1.16),(1.17,1.15),(1.17,1.12),(1.09,1),(.97,.92),(.84,.8),(.76,.73)]
i_l5b = [(.41,.46),(.46,.53),(.51,.51),(.51,.46),(.47,.46)]
i_l6 = [(.75,.79),(.76,.84),(.83,.88),(.84,.92),(.97,1.03),(1.05,1.08),(1.13,1.16),(1.17,1.15),(1.15,1.11),(1.09,1.01),(.97,.91),(.87,.84),(.79,.79)]
i_l6b = [(.47,.49),(.48,.51),(.5,.49),(.48,.46),(.47,.47)]
i_cloud = [(.38,1.96),(.45,1.99),(.44,1.94),(.42,1.91),(.37,1.86),(.34,1.8),(.4,1.78),(.28,1.73),(.35,1.72),(.34,1.7),(.41,1.7),(.41,1.64),(.34,1.59),(.4,1.56),(.3,1.53),(.33,1.52),(.35,1.49),(.39,1.46),(.29,1.37),(.38,1.37),(.31,1.33),(.33,1.31),(.28,1.3),(.37,1.29),(.3,1.25),(.35,1.23),(.31,1.2),(.28,1.15),(.32,1.15),(.32,1.11),(.35,1.11),(.36,1.09),(.27,1.03),(.31,1.05),(.35,1.03),(.27,.98),(.32,.97),(.3,.92),(.22,.9),(.21,.86),(.3,.85),(.19,.75),(.16,.73),(.2,.73),(.29,.77),(.33,.77),(.33,.69),(.27,.66),(.21,.63),(.26,.63),(.29,.61),(.16,.53),(.24,.56),(.24,.53),(.25,.44),(.2,.34),(.17,.3),(.19,.32),(.23,.26),
    (1.99,.39),(1.79,.25),(1.64,.23),(1.62,.3),(1.42,.21),(1.42,.32),(1.37,.32),(1.23,.18),(1.24,.29),(1.2,.28),(1.17,.28),(1.12,.29),(1.07,.28),(1.02,.06),(.97,.1),(.75,.12),(.71,.12),(.66,.11),(.56,.04),(.77,.01),(.49,.12),(.45,.15),(.4,.06),(.36,.05),(.37,.02),(.45,.01),(.15,.06),(.15,.02),(.2,.02),(.57,.21),(.63,.22),(.52,.2),(.89,.2),(.8,.23),(.73,.22),(.69,.26),(.88,.25),(.96,.26),(.8,.28),(.87,.3),(1.05,.33),(1.01,.34),(1.16,.33),(1.28,.39),(1.35,.41),(1.42,.4),(1.58,.43),(1.72,.43),(1.78,.45),(1.9,.47),(1.83,.47),(1.68,.45),(1.52,.47),(1.43,.44),(1.98,.53),(1.86,.52),(1.74,.55),(1.64,.55),(1.54,.52),(1.97,.63),(1.88,.59),(1.79,.67),(1.68,.65),(1.98,.69),(1.9,.72),(1.8,.71),(1.98,.82)]

# table of all panels, row by row
panel_hulls = [a_hull, b_hull, c_hull, d_hull, e_hull, f_hull, g_hull, h_hull, i_hull]
panel_clouds = [a_cloud, b_cloud, c_cloud, d_cloud, e_cloud, f_cloud, g_cloud, h_cloud, i_cloud]
panel_bands = [
    [(0, a_l1), (1, a_l2), (2, a_l3), (3, a_l4), (4, a_l5), (5, a_l6)],
    [(0, b_l1), (1, b_l2), (2, b_l3), (3, b_l4), (4, b_l5), (5, b_l6)],
    [(0, c_l1), (1, c_l2), (2, c_l3), (3, c_l4), (4, c_l5), (5, c_l6)],
    [(0, d_l1), (1, d_l2), (2, d_l3), (3, d_l4), (4, d_l5), (5, d_l6)],
    [(0, e_l1), (1, e_l2), (2, e_l3), (3, e_l4), (4, e_l5), (5, e_l6)],
    [(0, f_l1), (1, f_l2), (2, f_l3), (3, f_l4), (4, f_l5), (5, f_l6)],
    [(0, g_l1), (1, g_l2), (2, g_l3), (3, g_l4), (3, g_l4b), (3, g_l4c), (4, g_l5), (4, g_l5b), (5, g_l6), (5, g_l6b)],
    [(0, h_l1), (1, h_l2), (2, h_l3), (3, h_l4), (3, h_l4b), (3, h_l4c), (3, h_l4d), (4, h_l5), (4, h_l5b), (5, h_l6), (5, h_l6b)],
    [(0, i_l1), (1, i_l2), (2, i_l3), (3, i_l4), (3, i_l4b), (4, i_l5), (4, i_l5b), (5, i_l6), (5, i_l6b)],
]

W, H = 2067, 2155
col_left = [146, 835, 1524]
row_top = [18, 708, 1398]
box = 525
tick_font = 8.7
label_font = 8.45

sns.set_theme(style='ticks', rc={'text.color': 'black', 'axes.labelcolor': 'black', 'axes.edgecolor': 'black',
                                 'xtick.color': 'black', 'ytick.color': 'black'})
plt.rcParams['font.family'] = ['DejaVu Sans']

base = sns.color_palette('inferno_r', as_cmap=True)
cmap = LinearSegmentedColormap.from_list('inferno_cut', base(np.linspace(0.05, 1, 256)))
norm = Normalize(vmin=1, vmax=1000)
yellow = cmap(norm(1))

fig = plt.figure(figsize=(W / 300, H / 300), dpi=300)


def curved_path(poly):
    # vertices used as control points so the contour comes out rounded
    pts = np.array(poly, dtype=float)
    mids = (pts + np.roll(pts, -1, axis=0)) / 2
    verts = [mids[-1]]
    codes = [Path.MOVETO]
    for k in range(len(pts)):
        verts += [pts[k], mids[k]]
        codes += [Path.CURVE3, Path.CURVE3]
    return Path(np.array(verts), codes)


def draw_band(ax, poly, lev):
    path = curved_path(poly)
    colour = cmap(norm(levels[lev]))
    # a few see-through strokes give the soft edge of the density
    feather = [1, 1, 1, .6, .6, .25][lev]
    for i, w in enumerate([3.2, 2.3, 1.4, .7]):
        ax.add_patch(PathPatch(path, facecolor='none', edgecolor=colour, lw=w * feather, alpha=.28,
                               joinstyle='round', zorder=2 + lev * .1 + i * .01))
    return ax.add_patch(PathPatch(path, facecolor=colour, lw=0, zorder=2.05 + lev * .1))


def draw_panel(ax, idx, row, col):
    lo, hi = row_limits[row]
    ax.fill(*zip(*panel_hulls[idx]), color=yellow, lw=0, zorder=1)
    cloud = pd.DataFrame(panel_clouds[idx], columns=['x', 'y'])
    sns.scatterplot(data=cloud, x='x', y='y', ax=ax, color=yellow, s=4.2, linewidth=0, legend=False, zorder=1)

    black = []
    for lev, poly in panel_bands[idx]:
        p = draw_band(ax, poly, lev)
        if lev == 5:
            black.append(p)

    style = dict(lw=0.5, ls='--', zorder=4)
    ax.axline((lo, lo), slope=1, color='#a8abc2', **style)
    if row_zero[row]:
        ax.axhline(0, color='#a6a6a6', **style)
        ax.axvline(0, color='#a6a6a6', **style)
    # same lines in white on top of the black core
    for p in black:
        white = [ax.axline((lo, lo), slope=1, color='white', lw=0.6, ls='--', zorder=5)]
        if row_zero[row]:
            white.append(ax.axhline(0, color='white', lw=0.6, ls='--', zorder=5))
            white.append(ax.axvline(0, color='white', lw=0.6, ls='--', zorder=5))
        for ln in white:
            ln.set_clip_path(p)

    ax.set_xlim(lo, hi)
    ax.set_ylim(lo, hi)
    ax.set_xticks(row_ticks[row])
    ax.set_yticks(row_ticks[row])
    ax.tick_params(length=1.6, width=0.55, pad=2, labelsize=tick_font)
    ax.set_xlabel('AVHRR ' + row_bands[row], fontsize=label_font, labelpad=1.5)
    ax.set_ylabel(y_names[col] + ' ' + row_bands[row], fontsize=label_font, labelpad=.8)
    for s in ['left', 'bottom']:
        ax.spines[s].set_linewidth(0.6)
    sns.despine(ax=ax)
    ax.text(tag_x[idx], tag_y[idx], panel_tags[idx], transform=ax.transAxes, fontsize=9, zorder=6)


for row in range(3):
    for col in range(3):
        ax = fig.add_axes([col_left[col] / W, 1 - (row_top[row] + box) / H, box / W, box / H])
        draw_panel(ax, row * 3 + col, row, col)

# colorbar along the bottom
cax = fig.add_axes([401 / W, 1 - 2097 / H, 1266 / W, 27 / H])
cb = fig.colorbar(ScalarMappable(norm=norm, cmap=cmap), cax=cax, orientation='horizontal')
cb.set_ticks(cbar_ticks)
cb.ax.tick_params(length=1.6, width=0.55, pad=2, labelsize=tick_font)
cb.outline.set_linewidth(0.6)

fig.savefig('out.png', dpi=300)
